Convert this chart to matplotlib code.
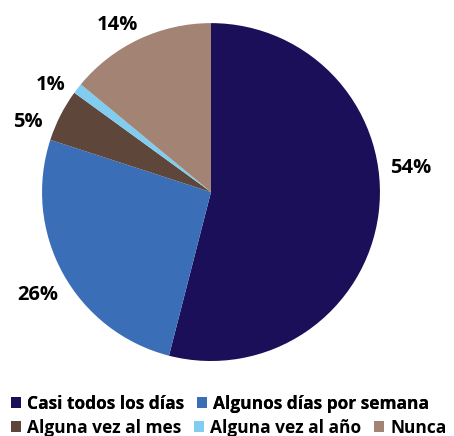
import matplotlib
matplotlib.use('Agg')
import matplotlib.pyplot as plt
import numpy as np
from matplotlib.patches import Patch

categories = ['Casi todos los días', 'Algunos días por semana', 'Alguna vez al mes',
              'Alguna vez al año', 'Nunca']
values = [54, 26, 5, 1, 14]
labels = ['54%', '26%', '5%', '1%', '14%']
colors = ['#1b0f5a', '#3a6fb8', '#5e463a', '#80cdf0', '#a38474']

# label placement tweaks (degrees off the slice middle, distance in radii)
label_shift = [14.9, 1.2, 5.4, 3.5, 3.8]
label_dist = [1.19, 1.185, 1.165, 1.15, 1.147]

plt.rcParams['font.family'] = ['Open Sans', 'DejaVu Sans']

fig = plt.figure(figsize=(4.54, 4.36), dpi=100)
ax = fig.add_axes([0.0925, 0.172, 0.7445, 0.775])

wedges, texts = ax.pie(values, colors=colors, labels=labels, startangle=90,
                       counterclock=False, labeldistance=1.17,
                       textprops={'fontsize': 14.5, 'fontweight': 'bold', 'color': 'black'})
for w, t, sh, d in zip(wedges, texts, label_shift, label_dist):
    mid = np.deg2rad((w.theta1 + w.theta2) / 2 + sh)
    t.set_position((d * np.cos(mid), d * np.sin(mid)))
    t.set_horizontalalignment('center')
    t.set_verticalalignment('center_baseline')
ax.set_aspect('equal')
ax.set_xlim(-1, 1)
ax.set_ylim(-1, 1)

handles = [Patch(facecolor=c, edgecolor='none') for c in colors]
style = dict(loc='upper left', frameon=False, handlelength=0.6, handleheight=0.6,
             handletextpad=0.35, columnspacing=0.7, borderaxespad=0, borderpad=0,
             prop={'size': 12.5, 'weight': 'bold'})
leg1 = fig.legend(handles[:2], categories[:2], ncol=2, bbox_to_anchor=(0.024, 0.095), **style)
leg2 = fig.legend(handles[2:], categories[2:], ncol=3, bbox_to_anchor=(0.024, 0.040), **style)
fig.add_artist(leg1)

fig.savefig('out.png', dpi=100)
